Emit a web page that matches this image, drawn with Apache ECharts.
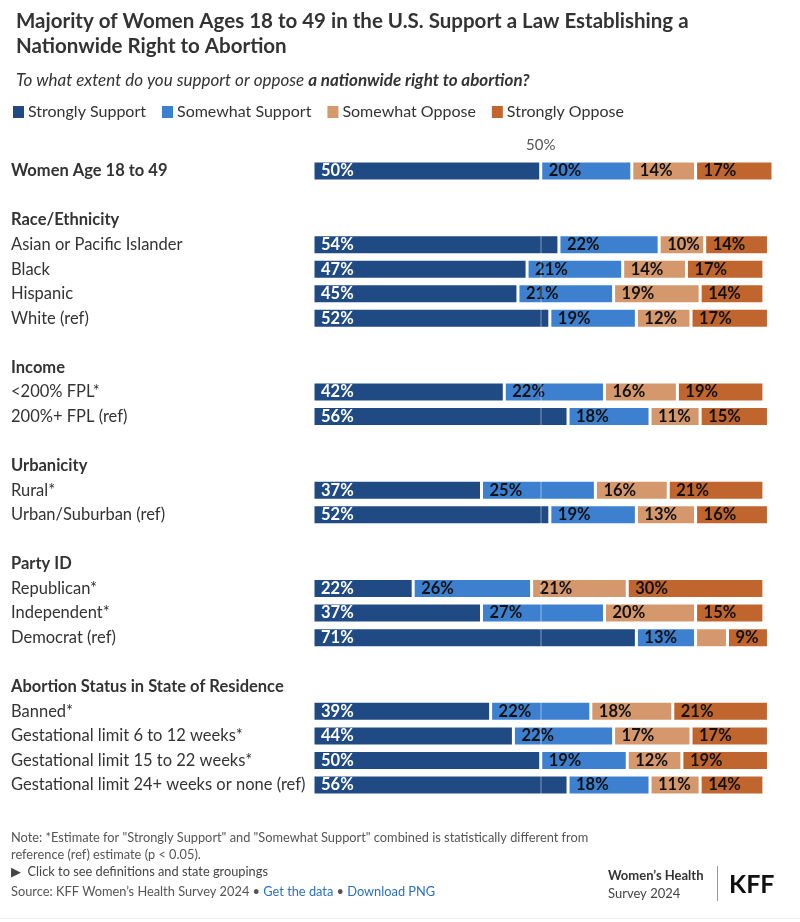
<!DOCTYPE html>
<html>
<head>
<meta charset="utf-8" />
<title>Nationwide Right to Abortion</title>
<script src="https://cdn.jsdelivr.net/npm/echarts@6/dist/echarts.min.js"></script>
<style>
  html, body { margin: 0; padding: 0; background: #fff; }
  #chart { width: 800px; height: 922px; }
</style>
</head>
<body>
<div id="chart"></div>
<script>
// row labels (group headers and blank spacer rows included)
var rows = [
  'Women Age 18 to 49', '',
  'Race/Ethnicity', 'Asian or Pacific Islander', 'Black', 'Hispanic', 'White (ref)', ' ',
  'Income', '<200% FPL*', '200%+ FPL (ref)', '  ',
  'Urbanicity', 'Rural*', 'Urban/Suburban (ref)', '   ',
  'Party ID', 'Republican*', 'Independent*', 'Democrat (ref)', '    ',
  'Abortion Status in State of Residence', 'Banned*', 'Gestational limit 6 to 12 weeks*',
  'Gestational limit 15 to 22 weeks*', 'Gestational limit 24+ weeks or none (ref)'
];
var boldRows = ['Women Age 18 to 49', 'Race/Ethnicity', 'Income', 'Urbanicity', 'Party ID',
  'Abortion Status in State of Residence'];

var seriesNames = ['Strongly Support', 'Somewhat Support', 'Somewhat Oppose', 'Strongly Oppose'];
var _ = null;
var stronglySupport = [50,_, _,54,47,45,52,_, _,42,56,_, _,37,52,_, _,22,37,71,_, _,39,44,50,56];
var somewhatSupport = [20,_, _,22,21,21,19,_, _,22,18,_, _,25,19,_, _,26,27,13,_, _,22,22,19,18];
var somewhatOppose  = [14,_, _,10,14,19,12,_, _,16,11,_, _,16,13,_, _,21,20, 7,_, _,18,17,12,11];
var stronglyOppose  = [17,_, _,14,17,14,17,_, _,19,15,_, _,21,16,_, _,30,15, 9,_, _,21,17,19,14];

var colors = ['#1f4a83', '#3d80d0', '#d5986c', '#c1652f'];
var labelColors = ['#fff', '#111', '#111', '#111'];
var values = [stronglySupport, somewhatSupport, somewhatOppose, stronglyOppose];

var FONT = 'Lato';
var chart = echarts.init(document.getElementById('chart'));

var series = seriesNames.map(function (name, i) {
  var s = {
    name: name,
    type: 'bar',
    stack: 'total',
    barWidth: 20,
    data: values[i],
    itemStyle: { color: colors[i], borderColor: '#fff', borderWidth: 1.5 },
    label: {
      show: true,
      position: 'insideLeft',
      offset: [3, 0],
      color: labelColors[i],
      fontFamily: FONT,
      fontWeight: 'bold',
      fontSize: 16.5,
      formatter: function (p) { return p.value >= 8 ? p.value + '%' : ''; }
    }
  };
  if (i === 3) {
    s.markLine = {
      silent: true,
      symbol: 'none',
      lineStyle: { color: 'rgba(255,255,255,0.3)', type: 'solid', width: 1.5 },
      label: { show: true, position: 'start', formatter: '50%', color: '#555',
        fontFamily: FONT, fontSize: 15, distance: 6 },
      data: [{ xAxis: 50 }]
    };
    s.z = 3;
  }
  return s;
});

var option = {
  animation: false,
  textStyle: { fontFamily: FONT },
  title: [
    {
      text: 'Majority of Women Ages 18 to 49 in the U.S. Support a Law Establishing a\nNationwide Right to Abortion',
      left: 11, top: 4,
      textStyle: { fontFamily: FONT, fontSize: 20.5, fontWeight: 'bold', color: '#333', lineHeight: 25 }
    },
    {
      text: '{a|To what extent do you support or oppose }{b|a nationwide right to abortion?}',
      left: 11, top: 67,
      textStyle: {
        fontFamily: FONT, fontSize: 17, fontStyle: 'italic', fontWeight: 'normal', color: '#333',
        rich: {
          a: { fontFamily: FONT, fontSize: 17, fontStyle: 'italic', fontWeight: 'normal', color: '#333' },
          b: { fontFamily: FONT, fontSize: 17, fontStyle: 'italic', fontWeight: 'bold', color: '#333' }
        }
      }
    }
  ],
  legend: {
    left: 11, top: 104, padding: 0,
    icon: 'rect', itemWidth: 13, itemHeight: 14, itemGap: 14,
    textStyle: { fontFamily: FONT, fontSize: 16, color: '#333', padding: [0, 0, 0, -2] },
    data: seriesNames
  },
  grid: { left: 313, right: 27, top: 158.7, bottom: 124.7, containLabel: false },
  xAxis: {
    type: 'value', min: 0, max: 101,
    show: false
  },
  yAxis: {
    type: 'category',
    inverse: true,
    data: rows,
    axisLine: { show: false },
    axisTick: { show: false },
    axisLabel: {
      align: 'left',
      margin: 302,
      formatter: function (v) {
        return boldRows.indexOf(v) >= 0 ? '{h|' + v + '}' : '{n|' + v + '}';
      },
      rich: {
        h: { fontFamily: FONT, fontSize: 16.5, fontWeight: 'bold', color: '#333' },
        n: { fontFamily: FONT, fontSize: 16.5, color: '#333' }
      }
    }
  },
  series: series,
  graphic: [
    { type: 'text', left: 11, top: 831, style: { text: 'Note: *Estimate for "Strongly Support" and "Somewhat Support" combined is statistically different from', font: '12.8px ' + FONT, fill: '#555' } },
    { type: 'text', left: 11, top: 848, style: { text: 'reference (ref) estimate (p < 0.05).', font: '12.8px ' + FONT, fill: '#555' } },
    { type: 'text', left: 11, top: 865, style: { text: '\u25B6  Click to see definitions and state groupings', font: '12.8px ' + FONT, fill: '#444' } },
    { type: 'text', left: 11, top: 885, style: {
        text: '{s|Source: KFF Women\u2019s Health Survey 2024 \u2022 }{l|Get the data}{s| \u2022 }{l|Download PNG}',
        rich: {
          s: { font: '12.8px ' + FONT, fill: '#555' },
          l: { font: '12.8px ' + FONT, fill: '#2a70c0' }
        }
      } },
    { type: 'text', left: 608, top: 869, style: { text: 'Women\u2019s Health', font: 'bold 13px ' + FONT, fill: '#333' } },
    { type: 'text', left: 608, top: 887, style: { text: 'Survey 2024', font: '13px ' + FONT, fill: '#444' } },
    { type: 'rect', left: 717, top: 866, shape: { width: 1, height: 35 }, style: { fill: '#999' } },
    { type: 'text', left: 729, top: 872, style: { text: 'KFF', font: 'bold 25px ' + FONT, fill: '#111' } },
    { type: 'rect', left: 0, top: 918, shape: { width: 800, height: 1 }, style: { fill: '#eee' } }
  ]
};
chart.setOption(option);
</script>
</body>
</html>
